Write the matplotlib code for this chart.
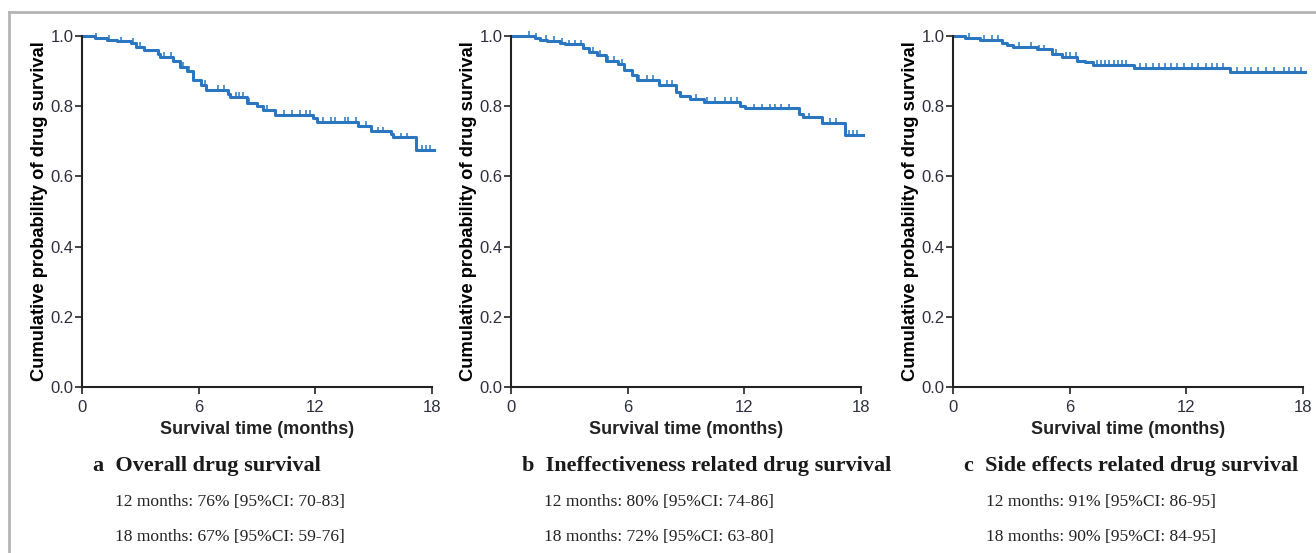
import matplotlib
matplotlib.use("Agg")
import matplotlib.pyplot as plt
from matplotlib.lines import Line2D

# Kaplan-Meier step values: (event time in months, survival after drop)
overall_t = [0, 0.67, 1.3, 1.8, 2.5, 2.8, 3.2, 3.9, 4.0, 4.7, 5.05, 5.4, 5.7, 6.1, 6.4,
             7.5, 7.6, 8.5, 9.0, 9.3, 9.9, 11.9, 12.1, 14.2, 14.85, 15.9, 16.0, 17.2, 18.1]
overall_s = [1.0, 0.995, 0.99, 0.985, 0.98, 0.97, 0.96, 0.95, 0.94, 0.93, 0.912, 0.90, 0.876,
             0.86, 0.847, 0.836, 0.826, 0.81, 0.80, 0.79, 0.775, 0.765, 0.755, 0.745, 0.728,
             0.72, 0.711, 0.676, 0.676]
overall_cens = [0.7, 1.4, 2.0, 2.6, 3.0, 4.2, 4.6, 5.2, 5.5, 6.3, 7.0, 7.3, 7.9, 8.1, 8.3,
                8.6, 9.5, 10.0, 10.4, 10.8, 11.2, 11.5, 11.7, 12.4, 12.8, 13.0, 13.5, 13.7,
                14.1, 14.6, 15.2, 15.5, 16.4, 16.7, 17.5, 17.7, 17.9]

ineff_t = [0, 1.23, 1.5, 1.85, 2.5, 2.8, 3.7, 4.0, 4.4, 4.9, 5.5, 5.8, 6.2, 6.5, 7.6, 8.5,
           8.7, 9.2, 9.9, 11.8, 12.05, 14.8, 15.0, 16.0, 17.2, 18.1]
ineff_s = [1.0, 0.995, 0.99, 0.987, 0.98, 0.976, 0.965, 0.955, 0.946, 0.93, 0.92, 0.903,
           0.89, 0.875, 0.86, 0.84, 0.83, 0.82, 0.812, 0.80, 0.794, 0.777, 0.768, 0.752,
           0.718, 0.718]
ineff_cens = [0.9, 1.3, 1.8, 2.2, 2.6, 3.0, 3.3, 3.6, 4.2, 4.6, 5.0, 5.3, 5.7, 6.6, 7.0,
              7.3, 8.0, 8.3, 9.5, 10.1, 10.5, 11.0, 11.3, 11.6, 12.5, 12.9, 13.3, 13.6,
              13.9, 14.3, 15.3, 16.4, 16.7, 17.4, 17.6, 17.8]

side_t = [0, 0.6, 1.4, 2.5, 2.8, 3.1, 4.3, 5.1, 5.6, 6.4, 6.8, 7.2, 9.3, 14.25, 18.1]
side_s = [1.0, 0.995, 0.988, 0.98, 0.975, 0.97, 0.962, 0.95, 0.94, 0.93, 0.925, 0.918,
          0.91, 0.898, 0.898]
side_cens = [0.8, 1.6, 2.0, 2.3, 3.4, 4.0, 4.4, 4.7, 5.3, 5.8, 6.0, 6.3, 7.4, 7.6, 7.8, 8.0,
             8.3, 8.5, 8.7, 8.9, 9.6, 9.9, 10.3, 10.6, 10.9, 11.2, 11.5, 11.9, 12.3, 12.6,
             13.0, 13.3, 13.6, 13.9, 14.6, 15.0, 15.3, 15.7, 16.1, 16.5, 17.0, 17.3, 17.6, 17.9]

panel_letters = ["a", "b", "c"]
panel_titles = ["Overall drug survival", "Ineffectiveness related drug survival",
                "Side effects related drug survival"]
line_12 = ["12 months: 76% [95%CI: 70-83]", "12 months: 80% [95%CI: 74-86]",
           "12 months: 91% [95%CI: 86-95]"]
line_18 = ["18 months: 67% [95%CI: 59-76]", "18 months: 72% [95%CI: 63-80]",
           "18 months: 90% [95%CI: 84-95]"]
x_ticks = [0, 6, 12, 18]
y_ticks = [0.0, 0.2, 0.4, 0.6, 0.8, 1.0]

curves = [(overall_t, overall_s, overall_cens),
          (ineff_t, ineff_s, ineff_cens),
          (side_t, side_s, side_cens)]

blue = "#2a76c0"
tick_col = "#2e2e3e"
W, H = 1316, 553
fig = plt.figure(figsize=(W / 100, H / 100), dpi=100)

# light grey frame top and left
fig.add_artist(Line2D([9 / W, 1], [1 - 12 / H, 1 - 12 / H], color="#b4b4b4", lw=2))
fig.add_artist(Line2D([9 / W, 9 / W], [0, 1 - 12 / H], color="#b4b4b4", lw=2))

lefts = [82, 511, 953]
for i, (t, s, cens) in enumerate(curves):
    ax = fig.add_axes([lefts[i] / W, 1 - 387 / H, 350 / W, 351 / H])
    ax.step(t, s, where="post", color=blue, lw=2.2, clip_on=False)
    # censor marks
    cs = []
    for c in cens:
        v = s[0]
        for tt, ss in zip(t, s):
            if tt <= c:
                v = ss
        cs.append(v + 0.005)
    ax.plot(cens, cs, ls="none", marker="|", ms=5, mew=1.1, color=blue, clip_on=False)

    ax.set_xlim(0, 18)
    ax.set_ylim(0, 1.0)
    ax.set_xticks(x_ticks)
    ax.set_yticks(y_ticks)
    ax.set_yticklabels([f"{v:.1f}" for v in y_ticks])
    for sp in ["top", "right"]:
        ax.spines[sp].set_visible(False)
    for sp in ["left", "bottom"]:
        ax.spines[sp].set_linewidth(1.5)
        ax.spines[sp].set_color("#222222")
    ax.tick_params(direction="out", length=5, width=1.2, colors="#222222",
                   labelcolor=tick_col, labelsize=12)
    ax.tick_params(axis="x", pad=4)
    ax.tick_params(axis="y", pad=1)
    for lab in ax.get_xticklabels() + ax.get_yticklabels():
        lab.set_family("Liberation Sans")
    ax.set_xlabel("Survival time (months)", fontsize=13, fontweight="bold",
                  family="Liberation Sans", color="#222222", labelpad=5)
    ax.set_ylabel("Cumulative probability of drug survival", fontsize=13.2,
                  fontweight="bold", family="Liberation Sans", color="black", labelpad=2)

    fig.text(lefts[i] / W + 11 / W, 1 - 466 / H, panel_letters[i] + "  " + panel_titles[i],
             fontsize=16, fontweight="bold", family="Liberation Serif", color="#1a1a1a",
             va="center", ha="left")
    fig.text(lefts[i] / W + 33 / W, 1 - 502 / H, line_12[i], fontsize=12.6,
             family="Liberation Serif", color="#222222", va="center", ha="left")
    fig.text(lefts[i] / W + 33 / W, 1 - 537 / H, line_18[i], fontsize=12.6,
             family="Liberation Serif", color="#222222", va="center", ha="left")

fig.savefig("out.png", dpi=100)
